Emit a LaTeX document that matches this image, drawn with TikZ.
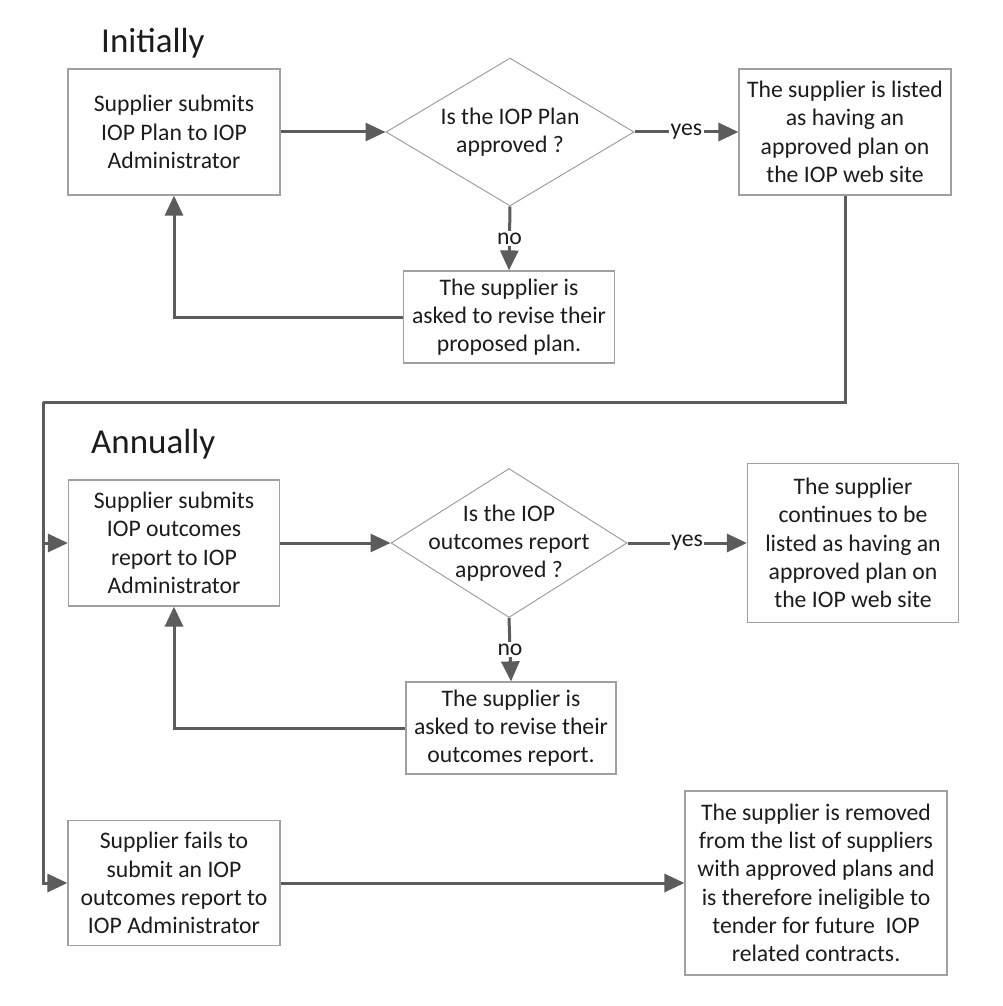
\documentclass[tikz,border=0pt]{standalone}
\usepackage{fontspec}
\setmainfont{Carlito}
\usepackage{tikz}
\usetikzlibrary{shapes.geometric}
\usetikzlibrary{arrows.meta}
\definecolor{linegray}{RGB}{92,92,94}
\definecolor{boxgray}{RGB}{160,160,160}
\definecolor{inkgray}{RGB}{28,28,28}
\tikzstyle{txt}=[text=inkgray, font=\fontsize{23.7pt}{28.3pt}\selectfont, align=center]
\tikzstyle{step box}=[txt, draw=boxgray, line width=1.2pt, inner sep=0pt]
\tikzstyle{decision}=[draw=boxgray, line width=1pt, diamond, inner sep=0pt]
\tikzstyle{line}=[draw=linegray, line width=3pt]
\tikzstyle{conn}=[line, -{Triangle[length=20pt, width=18pt]}]
\tikzstyle{lbl}=[txt, fill=white, inner sep=1.5pt]
\tikzstyle{heading}=[text=inkgray, font=\fontsize{35pt}{40pt}\selectfont, anchor=base west, inner sep=0pt]

\begin{document}
\begin{tikzpicture}[x=1pt, y=-1pt]
        \useasboundingbox (0, 0) rectangle (1002, 1006);
        \node[heading] (initially) at (101, 53) {Initially};
        \node[step box, minimum width=212pt, minimum height=126pt] (A1) at (174, 132) {Supplier submits\\IOP Plan to IOP\\Administrator};
        \node[decision, minimum width=248pt, minimum height=148pt, label={[txt]center:Is the IOP Plan\\approved ?}] (D1) at (510, 132) {};
        \node[step box, minimum width=212pt, minimum height=126pt] (B1) at (845, 132) {The supplier is listed\\as having an\\approved plan on\\the IOP web site};
        \node[step box, minimum width=211pt, minimum height=92pt] (C1) at (509, 317) {The supplier is\\asked to revise their\\proposed plan.};
        \draw[conn] (A1.east) -- (D1.west);
        \draw[conn] (D1.east) -- node[lbl] {yes} (B1.west);
        \draw[conn] (D1.south) -- node[lbl] {no} (C1.north);
        \draw[conn] (C1.west) -| (A1.south);

        \node[heading] (annually) at (91, 453) {Annually};
        \node[step box, minimum width=211pt, minimum height=126pt] (A2) at (174, 543) {Supplier submits\\IOP outcomes\\report to IOP\\Administrator};
        \node[decision, minimum width=236pt, minimum height=149pt, label={[txt]center:Is the IOP\\outcomes report\\approved ?}] (D2) at (509, 543) {};
        \node[step box, minimum width=211pt, minimum height=159pt] (B2) at (853, 543) {The supplier\\continues to be\\listed as having an\\approved plan on\\the IOP web site};
        \node[step box, minimum width=210pt, minimum height=92pt] (C2) at (511, 728) {The supplier is\\asked to revise their\\outcomes report.};
        \draw[conn] (A2.east) -- (D2.west);
        \draw[conn] (D2.east) -- node[lbl] {yes} (B2.west);
        \draw[conn] (D2.south) -- node[lbl] {no} (C2.north);
        \draw[conn] (C2.west) -| (A2.south);

        \node[step box, minimum width=212pt, minimum height=125pt] (A3) at (174, 883) {Supplier fails to\\submit an IOP\\outcomes report to\\IOP Administrator};
        \node[step box, minimum width=262pt, minimum height=184pt] (B3) at (816, 883) {The supplier is removed\\from the list of suppliers\\with approved plans and\\is therefore ineligible to\\tender for future\ \ IOP\\related contracts.};
        \draw[conn] (A3.east) -- (B3.west);

        \coordinate (split) at (43, 402);
        \draw[line] (B1.south) |- (split);
        \draw[conn] (split) |- (A3.west);
        \draw[conn] (split |- A2.west) -- (A2.west);
    \end{tikzpicture}
\end{document}
